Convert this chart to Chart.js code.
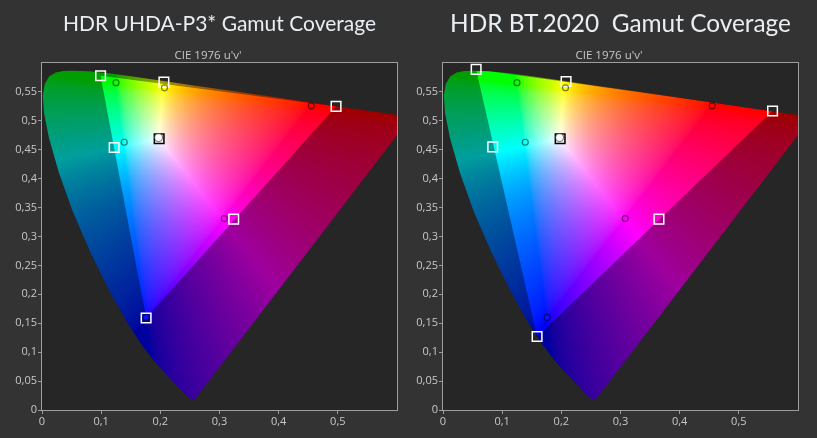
<!DOCTYPE html>
<html lang="en">
<head>
  <meta charset="UTF-8">
  <title>HDR Gamut Coverage</title>
  <script src="https://cdn.jsdelivr.net/npm/chart.js"></script>
  <style>
    body {
      margin: 0;
      background-color: #333333;
      width: 817px;
      height: 438px;
      overflow: hidden;
      position: relative;
    }
    .box {
      position: absolute;
      top: 0;
      width: 416px;
      height: 438px;
    }
    #boxP3 { left: 0; }
    #box2020 { left: 401px; }
  </style>
</head>
<body>
<div class="box" id="boxP3"><canvas id="chartP3"></canvas></div>
<div class="box" id="box2020"><canvas id="chart2020"></canvas></div>
<script>
    // spectral locus in u'v' (380 nm ... 700 nm)
    const locusU = [0.2568, 0.2461, 0.2347, 0.2161, 0.2033, 0.1877, 0.1690, 0.1441, 0.1147, 0.0828, 0.0521,
        0.0282, 0.0119, 0.0035, 0.0014, 0.0046, 0.0123, 0.0231, 0.0360, 0.0501, 0.0792, 0.1127, 0.1531,
        0.2026, 0.2623, 0.3315, 0.4035, 0.4692, 0.5203, 0.5565, 0.5830, 0.6109, 0.6234];
    const locusV = [0.0166, 0.0226, 0.0350, 0.0549, 0.0688, 0.0871, 0.1120, 0.1510, 0.2044, 0.2708, 0.3427,
        0.4117, 0.4698, 0.5131, 0.5432, 0.5638, 0.5770, 0.5837, 0.5861, 0.5868, 0.5856, 0.5821, 0.5766,
        0.5694, 0.5604, 0.5501, 0.5393, 0.5296, 0.5219, 0.5165, 0.5125, 0.5084, 0.5065];

    // points order: R, G, B, C, M, Y, W
    const p3TargetU = [0.497, 0.099, 0.176, 0.122, 0.324, 0.206, 0.198];
    const p3TargetV = [0.525, 0.578, 0.159, 0.454, 0.330, 0.567, 0.469];
    const bt2020TargetU = [0.557, 0.056, 0.159, 0.084, 0.365, 0.208, 0.198];
    const bt2020TargetV = [0.517, 0.589, 0.127, 0.455, 0.330, 0.568, 0.469];

    const measuredU = [0.455, 0.125, 0.176, 0.139, 0.308, 0.207, 0.197];
    const measuredV = [0.526, 0.566, 0.160, 0.463, 0.331, 0.557, 0.471];

    const xTicks = [0, 0.1, 0.2, 0.3, 0.4, 0.5];
    const yTicks = [0, 0.05, 0.1, 0.15, 0.2, 0.25, 0.3, 0.35, 0.4, 0.45, 0.5, 0.55];

    function fmt(v) {
        return String(+Number(v).toFixed(2)).replace('.', ',');
    }

    // u'v' -> display colour (clipped and normalised RGB, mild gamma)
    function uvColor(u, v) {
        if (v < 0.005) v = 0.005;
        const d = 6 * u - 16 * v + 12;
        const x = 9 * u / d, y = 4 * v / d;
        const X = x / y, Z = (1 - x - y) / y;
        const r = Math.max(0, 3.2406 * X - 1.5372 - 0.4986 * Z);
        const g = Math.max(0, -0.9689 * X + 1.8758 + 0.0415 * Z);
        const b = Math.max(0, 0.0557 * X - 0.2040 + 1.0570 * Z);
        const m = Math.max(r, g, b) || 1;
        const k = 1 / 1.7;
        return [Math.pow(r / m, k) * 255, Math.pow(g / m, k) * 255, Math.pow(b / m, k) * 255];
    }

    function edgeDist(p, a, b) {
        const dx = b[0] - a[0], dy = b[1] - a[1];
        return ((p[0] - a[0]) * dy - (p[1] - a[1]) * dx) / Math.hypot(dx, dy);
    }

    const gamutPlugin = {
        id: 'gamut',
        beforeDatasetsDraw(chart, args, opts) {
            const {ctx, chartArea: a, scales: {x, y}} = chart;
            const w = Math.round(a.right - a.left), h = Math.round(a.bottom - a.top);
            ctx.save();
            ctx.fillStyle = '#262626';
            ctx.fillRect(a.left, a.top, w, h);

            const tri = [0, 1, 2].map(i => [opts.u[i], opts.v[i]]);
            const edges = [[0, 1, 2], [1, 2, 0], [2, 0, 1]].map(([i, j, k]) => ({
                a: tri[i], b: tri[j], s: Math.sign(edgeDist(tri[k], tri[i], tri[j]))
            }));
            const pxPerUnit = w / (x.max - x.min);

            const off = document.createElement('canvas');
            off.width = w;
            off.height = h;
            const octx = off.getContext('2d');
            const img = octx.createImageData(w, h);
            for (let j = 0; j < h; j++) {
                const v = y.getValueForPixel(a.top + j + 0.5);
                for (let i = 0; i < w; i++) {
                    const u = x.getValueForPixel(a.left + i + 0.5);
                    const c = uvColor(u, v);
                    let dmin = Infinity;
                    edges.forEach(e => {
                        dmin = Math.min(dmin, e.s * edgeDist([u, v], e.a, e.b));
                    });
                    const t = Math.min(1, Math.max(0, dmin * pxPerUnit + 0.5));
                    const f = 0.62 + 0.38 * t;
                    const n = (j * w + i) * 4;
                    img.data[n] = c[0] * f;
                    img.data[n + 1] = c[1] * f;
                    img.data[n + 2] = c[2] * f;
                    img.data[n + 3] = 255;
                }
            }
            octx.putImageData(img, 0, 0);

            ctx.beginPath();
            ctx.rect(a.left, a.top, w, h);
            ctx.clip();
            ctx.beginPath();
            locusU.forEach((u, i) => {
                const px = x.getPixelForValue(u), py = y.getPixelForValue(locusV[i]);
                if (i === 0) ctx.moveTo(px, py); else ctx.lineTo(px, py);
            });
            ctx.closePath();
            ctx.clip();
            ctx.drawImage(off, a.left, a.top);
            ctx.restore();

            ctx.save();
            ctx.strokeStyle = '#9e9e9e';
            ctx.lineWidth = 1;
            ctx.strokeRect(a.left - 0.5, a.top - 0.5, w + 1, h + 1);
            ctx.restore();
        }
    };

    function makeChart(id, title, titleSize, targetU, targetV) {
        const ctx = document.getElementById(id).getContext('2d');
        const padTop = 24.5 - titleSize * 0.6;
        return new Chart(ctx, {
            type: 'scatter',
            data: {
                datasets: [{
                    label: 'Measured',
                    data: measuredU.map((u, i) => ({x: u, y: measuredV[i]})),
                    pointStyle: 'circle',
                    pointRadius: [3, 3, 3, 3, 3, 3, 4],
                    pointBackgroundColor: ['rgba(0,0,0,0)', 'rgba(0,0,0,0)', '#1010ff', 'rgba(0,0,0,0)',
                        'rgba(0,0,0,0)', 'rgba(0,0,0,0)', '#ffffff'],
                    pointBorderColor: 'rgba(0,0,0,0.5)',
                    pointBorderWidth: 1.2,
                    clip: false
                }, {
                    label: 'Target',
                    data: targetU.map((u, i) => ({x: u, y: targetV[i]})),
                    pointStyle: 'rect',
                    pointRadius: 6.8,
                    pointBackgroundColor: 'rgba(0,0,0,0)',
                    pointBorderColor: ['#ffffff', '#ffffff', '#ffffff', '#ffffff', '#ffffff', '#ffffff', '#000000'],
                    pointBorderWidth: 1.5,
                    clip: false
                }]
            },
            options: {
                responsive: true,
                maintainAspectRatio: false,
                animation: false,
                events: [],
                layout: {
                    padding: {left: 0, right: 0, top: 0, bottom: 0}
                },
                plugins: {
                    legend: {display: false},
                    tooltip: {enabled: false},
                    title: {
                        display: true,
                        text: title,
                        fullSize: false,
                        color: '#e9eef3',
                        font: {family: "Lato, sans-serif", size: titleSize, weight: 'normal'},
                        padding: {top: padTop, bottom: 48.8 - padTop - titleSize * 1.2}
                    },
                    subtitle: {
                        display: true,
                        text: "CIE 1976 u'v'",
                        color: '#c8c8c8',
                        font: {family: "'Open Sans', sans-serif", size: 11.5},
                        padding: {top: 0, bottom: 0.4}
                    },
                    gamut: {u: targetU, v: targetV}
                },
                scales: {
                    x: {
                        type: 'linear',
                        min: 0,
                        max: 0.6,
                        afterBuildTicks: axis => { axis.ticks = xTicks.map(v => ({value: v})); },
                        afterFit: axis => { axis.height = 28; },
                        ticks: {
                            color: '#c8c8c8',
                            font: {family: "'Open Sans', sans-serif", size: 11},
                            padding: 1,
                            maxRotation: 0,
                            autoSkip: false,
                            callback: v => fmt(v)
                        },
                        grid: {drawOnChartArea: false, drawTicks: true, tickLength: 4, color: '#9e9e9e'},
                        border: {display: false}
                    },
                    y: {
                        type: 'linear',
                        position: 'left',
                        min: 0,
                        max: 0.6,
                        afterBuildTicks: axis => { axis.ticks = yTicks.map(v => ({value: v})); },
                        afterFit: axis => { axis.width = 42; },
                        ticks: {
                            color: '#c8c8c8',
                            font: {family: "'Open Sans', sans-serif", size: 11},
                            padding: 1,
                            autoSkip: false,
                            callback: v => fmt(v)
                        },
                        grid: {drawOnChartArea: false, drawTicks: true, tickLength: 4, color: '#9e9e9e'},
                        border: {display: false}
                    },
                    // empty spacer on the right so the subtitle sits where it does in the original
                    yRight: {
                        type: 'linear',
                        position: 'right',
                        min: 0,
                        max: 0.6,
                        afterFit: axis => { axis.width = 19; },
                        ticks: {display: false},
                        grid: {display: false},
                        border: {display: false}
                    }
                }
            },
            plugins: [gamutPlugin]
        });
    }

    makeChart('chartP3', 'HDR UHDA-P3* Gamut Coverage', 21, p3TargetU, p3TargetV);
    makeChart('chart2020', 'HDR BT.2020  Gamut Coverage', 24.4, bt2020TargetU, bt2020TargetV);
</script>
</body>
</html>
